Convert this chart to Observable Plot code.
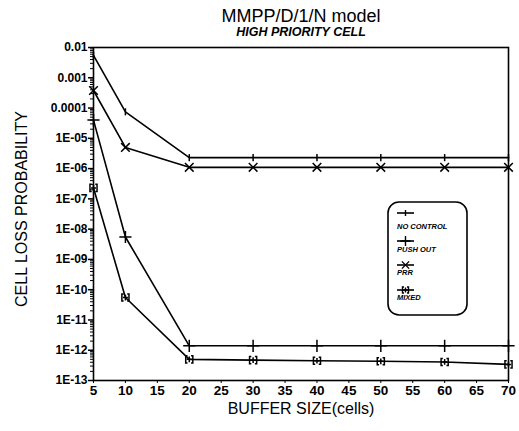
<!DOCTYPE html>
<html>
<head>
<meta charset="utf-8">
<script src="https://cdn.jsdelivr.net/npm/d3@7"></script>
<script src="https://cdn.jsdelivr.net/npm/@observablehq/plot@0.6"></script>
<style>
  html, body { margin: 0; padding: 0; background: #fff; }
  svg { font-family: "Liberation Sans", Arial, sans-serif; }
</style>
</head>
<body>
<div id="chart"></div>
<script>
// ---- data ----
const bufferSizes = [5, 10, 20, 30, 40, 50, 60, 70];
const seriesNames = ["NO CONTROL", "PUSH OUT", "PRR", "MIXED"];
const noControl = [5.5e-3, 7.5e-5, 2.3e-6, 2.3e-6, 2.3e-6, 2.3e-6, 2.3e-6, 2.3e-6];
const pushOut   = [4e-5, 5.5e-9, 1.4e-12, 1.4e-12, 1.4e-12, 1.4e-12, 1.4e-12, 1.4e-12];
const prr       = [3.8e-4, 5e-6, 1.1e-6, 1.1e-6, 1.1e-6, 1.1e-6, 1.1e-6, 1.1e-6];
const mixed     = [2.3e-7, 5.5e-11, 5e-13, 4.7e-13, 4.5e-13, 4.3e-13, 4.1e-13, 3.4e-13];
const xTicks = [5, 10, 15, 20, 25, 30, 35, 40, 45, 50, 55, 60, 65, 70];
const yTicks = [1e-2, 1e-3, 1e-4, 1e-5, 1e-6, 1e-7, 1e-8, 1e-9, 1e-10, 1e-11, 1e-12, 1e-13];
const yTickLabels = ["0.01", "0.001", "0.0001", "1E-05", "1E-06", "1E-07", "1E-08", "1E-09", "1E-10", "1E-11", "1E-12", "1E-13"];
const titleText = "MMPP/D/1/N model";
const subtitleText = "HIGH PRIORITY CELL";
const xLabel = "BUFFER SIZE(cells)";
const yLabel = "CELL LOSS PROBABILITY";

// ---- build table ----
const valuesBySeries = [noControl, pushOut, prr, mixed];
const rows = [];
seriesNames.forEach((s, k) => bufferSizes.forEach((b, i) => rows.push({series: s, x: b, y: valuesBySeries[k][i]})));

const minorTicks = [];
for (let e = -13; e < -2; e++) for (let m = 2; m <= 9; m++) minorTicks.push(m * Math.pow(10, e));

const labelFor = d => yTickLabels[yTicks.findIndex(t => Math.abs(Math.log10(t) - Math.log10(d)) < 1e-6)] ?? "";

// custom symbols
const barSym = {draw(ctx, size) { const r = Math.sqrt(size) / 2; ctx.moveTo(0, -r); ctx.lineTo(0, r); }};
const mixedSym = {draw(ctx, size) {
  const r = Math.sqrt(size) / 2;
  ctx.moveTo(-r * 0.7, 0); ctx.lineTo(r * 0.7, 0);
  ctx.moveTo(0, -r * 0.8); ctx.lineTo(0, r * 0.8);
  ctx.moveTo(-r * 0.5, -r); ctx.lineTo(-r, -r); ctx.lineTo(-r, r); ctx.lineTo(-r * 0.5, r);
  ctx.moveTo(r * 0.5, -r); ctx.lineTo(r, -r); ctx.lineTo(r, r); ctx.lineTo(r * 0.5, r);
}};
const symbolRange = [barSym, d3.symbolPlus, d3.symbolTimes, mixedSym];

const chart = Plot.plot({
  width: 519,
  height: 431,
  marginLeft: 93,
  marginRight: 11,
  marginTop: 47,
  marginBottom: 51,
  style: {fontFamily: "'Liberation Sans', Arial, sans-serif", color: "#000", background: "#fff"},
  x: {domain: [5, 70]},
  y: {type: "log", domain: [1e-13, 1e-2]},
  symbol: {domain: seriesNames, range: symbolRange},
  marks: [
    Plot.frame({stroke: "#000", strokeWidth: 1.6}),
    Plot.axisX({ticks: xTicks, tickSize: 3, tickPadding: 2, fontSize: 13.5, fontWeight: "bold", label: null}),
    Plot.axisY({ticks: yTicks, tickFormat: labelFor, tickSize: 5, tickPadding: 1, fontSize: 12, fontWeight: "bold", label: null, strokeWidth: 1.5}),
    Plot.axisY({ticks: minorTicks, tickFormat: () => "", tickSize: 3, label: null}),
    Plot.line(rows, {x: "x", y: "y", z: "series", stroke: "#000", strokeWidth: 1.6}),
    Plot.dot(rows, {x: "x", y: "y", symbol: "series", r: 4, stroke: "#000", fill: "none", strokeWidth: 1.5}),
    Plot.text([titleText], {frameAnchor: "top", dy: -38, fontSize: 18, fill: "#000"}),
    Plot.text([subtitleText], {frameAnchor: "top", dy: -20, fontSize: 12.5, fontStyle: "italic", fontWeight: "bold", fill: "#000"}),
    Plot.text([xLabel], {frameAnchor: "bottom", dy: 33, fontSize: 16, fill: "#000"}),
    Plot.text([yLabel], {frameAnchor: "left", textAnchor: "middle", dx: -72, dy: -5, rotate: -90, fontSize: 16, fill: "#000"})
  ]
});
document.getElementById("chart").appendChild(chart);

// ---- legend (inside plot) ----
const svg = d3.select(chart);
const lg = svg.append("g").attr("transform", "translate(388,202)").attr("text-anchor", "start");
lg.append("rect").attr("width", 79).attr("height", 113).attr("rx", 11).attr("ry", 11)
  .attr("fill", "#fff").attr("stroke", "#000").attr("stroke-width", 1.6);
const sampleY = [11, 39, 63, 88];
const labelY = [27, 50, 73, 98];
seriesNames.forEach((name, i) => {
  const g = lg.append("g");
  g.append("line").attr("x1", 9).attr("x2", 26).attr("y1", sampleY[i]).attr("y2", sampleY[i])
    .attr("stroke", "#000").attr("stroke-width", 1.6);
  g.append("path").attr("transform", `translate(17.5,${sampleY[i]})`)
    .attr("d", d3.symbol(symbolRange[i], 36)())
    .attr("fill", "none").attr("stroke", "#000").attr("stroke-width", 1.4);
  g.append("text").attr("x", 9).attr("y", labelY[i]).text(name)
    .attr("font-size", 7.5).attr("font-style", "italic").attr("font-weight", "bold").attr("fill", "#000");
});
</script>
</body>
</html>
